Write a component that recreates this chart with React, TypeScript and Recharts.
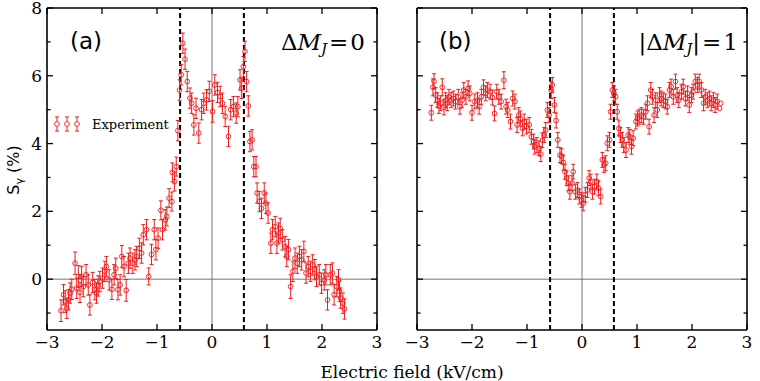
import React from "react";
import { ScatterChart, Scatter, XAxis, YAxis, ErrorBar, ReferenceLine } from "recharts";

// ---- Data (kV/cm, %) ----
const xA = [-2.745,-2.70,-2.67,-2.64,-2.61,-2.58,-2.55,-2.49,-2.46,-2.43,-2.40,-2.37,-2.34,-2.29,-2.25,-2.22,-2.17,-2.13,-2.10,-2.07,-2.04,-1.99,-1.95,-1.92,-1.87,-1.82,-1.78,-1.75,-1.71,-1.67,-1.64,-1.60,-1.56,-1.52,-1.49,-1.44,-1.40,-1.37,-1.32,-1.28,-1.25,-1.19,-1.15,-1.10,-1.05,-1.02,-0.98,-0.93,-0.90,-0.85,-0.82,-0.78,-0.73,-0.72,-0.68,-0.65,-0.62,-0.59,-0.56,-0.53,-0.49,-0.45,-0.40,-0.37,-0.33,-0.29,-0.24,-0.19,-0.15,-0.10,-0.05,0.01,0.05,0.10,0.15,0.19,0.24,0.30,0.34,0.39,0.44,0.47,0.51,0.54,0.57,0.60,0.63,0.66,0.69,0.73,0.76,0.80,0.82,0.86,0.90,0.95,0.98,1.02,1.07,1.10,1.15,1.18,1.21,1.24,1.28,1.33,1.36,1.39,1.43,1.47,1.51,1.55,1.59,1.63,1.67,1.71,1.75,1.79,1.83,1.87,1.90,1.95,1.99,2.04,2.07,2.10,2.15,2.19,2.22,2.27,2.30,2.32,2.34,2.38,2.41];
const yA = [-0.93,-0.46,-0.66,-0.86,-0.61,-0.41,-0.30,0.47,-0.27,0.08,-0.39,0.08,-0.22,0.13,-0.17,-0.76,-0.10,-0.31,-0.41,-0.20,-0.07,0.03,0.23,0.37,-0.02,-0.30,0.13,0.32,-0.31,-0.17,0.67,0.37,-0.33,0.47,0.62,0.47,0.57,0.67,0.91,0.77,1.31,1.46,0.08,0.73,1.46,0.87,1.21,2.03,1.46,1.75,1.85,2.39,2.29,3.15,2.88,3.32,4.38,5.58,6.03,6.96,6.49,5.83,5.34,5.19,4.55,5.04,4.31,5.00,5.19,5.29,5.54,4.95,5.73,5.51,5.39,5.19,4.80,4.21,5.00,5.09,4.90,5.09,5.88,5.63,6.27,6.72,5.83,5.11,4.06,4.11,3.32,3.32,2.54,2.29,2.09,2.54,2.24,1.95,1.06,1.46,1.55,1.06,1.36,1.50,1.16,0.96,0.67,0.87,-0.22,0.23,0.62,0.47,0.67,0.57,0.82,0.18,0.37,0.23,0.42,0.28,0.08,0.13,-0.12,-0.02,0.13,-0.61,0.13,0.18,-0.46,-0.22,-0.02,-0.36,-0.56,-0.71,-0.88];
const eA = [0.32,0.30,0.32,0.30,0.30,0.30,0.30,0.33,0.30,0.32,0.30,0.30,0.30,0.30,0.30,0.30,0.30,0.30,0.30,0.30,0.30,0.30,0.30,0.30,0.30,0.30,0.30,0.30,0.30,0.30,0.32,0.30,0.32,0.30,0.30,0.30,0.30,0.30,0.30,0.30,0.30,0.30,0.25,0.30,0.30,0.30,0.30,0.28,0.30,0.30,0.28,0.28,0.28,0.28,0.28,0.28,0.30,0.30,0.30,0.30,0.30,0.30,0.30,0.30,0.30,0.30,0.30,0.30,0.30,0.30,0.30,0.32,0.30,0.30,0.30,0.30,0.30,0.30,0.30,0.30,0.30,0.30,0.30,0.30,0.30,0.30,0.30,0.30,0.30,0.30,0.30,0.30,0.30,0.30,0.30,0.30,0.30,0.30,0.30,0.30,0.30,0.30,0.30,0.30,0.30,0.30,0.30,0.30,0.35,0.30,0.30,0.30,0.30,0.30,0.30,0.30,0.30,0.30,0.30,0.30,0.30,0.30,0.30,0.30,0.30,0.30,0.30,0.30,0.30,0.30,0.30,0.30,0.30,0.30,0.30];

const xB = [-2.74,-2.71,-2.69,-2.66,-2.63,-2.60,-2.57,-2.54,-2.51,-2.48,-2.45,-2.42,-2.38,-2.34,-2.30,-2.25,-2.22,-2.18,-2.15,-2.11,-2.07,-2.04,-2.00,-1.95,-1.90,-1.87,-1.83,-1.79,-1.75,-1.72,-1.67,-1.63,-1.59,-1.55,-1.51,-1.47,-1.42,-1.38,-1.35,-1.30,-1.26,-1.22,-1.18,-1.15,-1.12,-1.08,-1.05,-1.01,-0.96,-0.92,-0.88,-0.86,-0.82,-0.78,-0.75,-0.72,-0.69,-0.66,-0.63,-0.60,-0.56,-0.54,-0.50,-0.47,-0.44,-0.40,-0.37,-0.34,-0.31,-0.28,-0.25,-0.22,-0.18,-0.16,-0.12,-0.08,-0.05,-0.01,0.02,0.06,0.10,0.13,0.16,0.19,0.23,0.27,0.30,0.34,0.37,0.40,0.43,0.46,0.50,0.52,0.55,0.58,0.61,0.64,0.67,0.70,0.73,0.76,0.80,0.84,0.87,0.90,0.93,0.98,1.01,1.04,1.08,1.12,1.16,1.19,1.22,1.25,1.28,1.31,1.34,1.37,1.41,1.44,1.48,1.52,1.55,1.59,1.62,1.66,1.70,1.73,1.76,1.81,1.84,1.88,1.92,1.95,1.99,2.02,2.06,2.10,2.13,2.17,2.21,2.24,2.28,2.32,2.35,2.39,2.42,2.46,2.50,2.52];
const yB = [4.91,5.66,5.84,5.43,5.28,5.11,5.19,5.66,5.07,5.28,5.19,5.38,5.28,5.33,5.24,5.38,5.09,5.28,5.58,5.38,5.63,5.48,4.91,5.24,5.28,5.09,5.38,5.66,5.48,5.58,5.53,5.36,4.89,5.53,5.38,5.24,5.87,5.09,4.99,4.65,5.33,5.24,4.55,4.84,4.74,4.45,4.65,4.50,4.55,4.20,4.06,3.91,3.96,3.86,3.69,4.10,4.25,4.40,4.99,4.84,5.58,5.73,5.14,4.68,4.11,3.66,3.63,3.44,3.17,2.98,2.83,2.58,2.83,3.17,2.58,2.63,2.44,2.34,2.24,2.49,2.63,2.98,2.88,2.58,2.73,2.88,2.68,2.44,3.52,3.37,3.42,4.01,4.11,4.94,5.58,5.48,5.38,4.94,4.45,4.25,4.11,3.96,3.81,4.25,4.20,3.91,4.16,4.65,4.74,4.79,4.84,4.79,4.94,5.19,4.50,5.58,5.38,4.84,5.28,4.99,5.43,5.33,5.28,5.24,5.09,5.58,5.68,5.38,5.83,5.43,5.28,5.53,5.68,5.33,5.48,5.14,5.43,5.53,5.83,5.73,5.83,5.58,5.19,5.38,5.28,5.33,5.19,5.28,5.14,5.24,5.04,5.19];
const eB = [0.22,0.25,0.22,0.22,0.22,0.22,0.22,0.25,0.22,0.22,0.22,0.22,0.22,0.22,0.22,0.22,0.22,0.22,0.22,0.22,0.22,0.22,0.22,0.22,0.22,0.22,0.22,0.22,0.22,0.22,0.22,0.22,0.22,0.22,0.22,0.22,0.25,0.22,0.22,0.22,0.22,0.22,0.22,0.22,0.22,0.22,0.22,0.22,0.22,0.22,0.22,0.22,0.22,0.22,0.22,0.22,0.22,0.22,0.22,0.22,0.25,0.22,0.22,0.22,0.22,0.22,0.22,0.22,0.22,0.22,0.22,0.22,0.22,0.22,0.22,0.22,0.22,0.22,0.22,0.22,0.22,0.22,0.22,0.22,0.22,0.22,0.22,0.22,0.22,0.22,0.22,0.22,0.22,0.22,0.22,0.22,0.22,0.22,0.22,0.22,0.22,0.22,0.22,0.22,0.22,0.22,0.22,0.22,0.22,0.22,0.22,0.22,0.22,0.22,0.22,0.22,0.22,0.22,0.22,0.22,0.22,0.22,0.22,0.22,0.22,0.22,0.22,0.22,0.22,0.22,0.22,0.22,0.22,0.22,0.22,0.22,0.22,0.22,0.22,0.22,0.22,0.22,0.22,0.22,0.22,0.22,0.22,0.22,0.22,0.22];

const xTicks = [-3, -2, -1, 0, 1, 2, 3];
const yTicks = [-1, 0, 1, 2, 3, 4, 5, 6, 7, 8];
const dashedX = [-0.58, 0.58];

const RED = "#ee1c1c";
const SERIF = "'DejaVu Serif', serif";
const SANS = "'DejaVu Sans', sans-serif";
const CHART_W = 410;

const build = (xs: number[], ys: number[], es: number[]) =>
  xs.map((x, i) => ({ x, y: ys[i], e: es[i] }));

const fmt = (v: number) => (v < 0 ? "\u2212" + Math.abs(v) : String(v));

const makeTick = (side: "bottom" | "top" | "left" | "right", labels: boolean) => (p: any) => {
  const { x, y, payload } = p;
  const v = payload.value as number;
  const major = side === "bottom" || side === "top" ? true : v % 2 === 0;
  const len = major ? 6 : 3.5;
  let line;
  if (side === "bottom") line = <line x1={x} y1={y} x2={x} y2={y - len} />;
  else if (side === "top") line = <line x1={x} y1={y} x2={x} y2={y + len} />;
  else if (side === "left") line = <line x1={x} y1={y} x2={x + len} y2={y} />;
  else line = <line x1={x} y1={y} x2={x - len} y2={y} />;
  return (
    <g>
      <g stroke="#000" strokeWidth={1.3}>{line}</g>
      {labels && side === "bottom" && (
        <text x={x} y={y + 18} textAnchor="middle" fontFamily={SERIF} fontSize={17} fill="#000">{fmt(v)}</text>
      )}
      {labels && side === "left" && major && (
        <text x={x - 5} y={y + 6} textAnchor="end" fontFamily={SERIF} fontSize={17} fill="#000">{fmt(v)}</text>
      )}
    </g>
  );
};

const Marker = (p: any) => (
  <circle cx={p.cx} cy={p.cy} r={2.4} fill="none" stroke={RED} strokeWidth={0.9} />
);

function Panel({ data, left, plotLeft, showYLabels }: { data: any[]; left: number; plotLeft: number; showYLabels: boolean }) {
  const axisLine = { stroke: "#000", strokeWidth: 1.6 };
  const plotRight = CHART_W - plotLeft - 330;
  return (
    <div style={{ position: "absolute", left, top: 0 }}>
      <ScatterChart width={CHART_W} height={381} margin={{ top: 7, right: plotRight - 1, bottom: 50, left: plotLeft - 1 }}>
        <XAxis xAxisId="b" dataKey="x" type="number" domain={[-3, 3]} ticks={xTicks} interval={0} height={1} tickSize={0} tickMargin={0} orientation="bottom" axisLine={axisLine} tickLine={false} tick={makeTick("bottom", true)} allowDataOverflow />
        <XAxis xAxisId="t" dataKey="x" type="number" domain={[-3, 3]} ticks={xTicks} interval={0} height={1} tickSize={0} tickMargin={0} orientation="top" axisLine={axisLine} tickLine={false} tick={makeTick("top", false)} allowDataOverflow />
        <YAxis yAxisId="l" dataKey="y" type="number" domain={[-1.5, 8]} ticks={yTicks} interval={0} width={1} tickSize={0} tickMargin={0} orientation="left" axisLine={axisLine} tickLine={false} tick={makeTick("left", showYLabels)} allowDataOverflow />
        <YAxis yAxisId="r" dataKey="y" type="number" domain={[-1.5, 8]} ticks={yTicks} interval={0} width={1} tickSize={0} tickMargin={0} orientation="right" axisLine={axisLine} tickLine={false} tick={makeTick("right", false)} allowDataOverflow />
        <ReferenceLine xAxisId="b" yAxisId="l" x={0} stroke="#666" strokeWidth={0.9} />
        <ReferenceLine xAxisId="b" yAxisId="l" y={0} stroke="#666" strokeWidth={0.9} />
        {dashedX.map((d) => (
          <ReferenceLine key={d} xAxisId="b" yAxisId="l" x={d} stroke="#000" strokeWidth={2} strokeDasharray="5 3" />
        ))}
        <Scatter xAxisId="b" yAxisId="l" data={data} dataKey="y" shape={Marker} isAnimationActive={false}>
          <ErrorBar dataKey="e" direction="y" width={2} stroke={RED} strokeWidth={1} isAnimationActive={false} />
        </Scatter>
      </ScatterChart>
    </div>
  );
}

export default function App() {
  const dataA = build(xA, yA, eA);
  const dataB = build(xB, yB, eB);
  const mathStyle: React.CSSProperties = { position: "absolute", top: 29, fontFamily: SERIF, fontSize: 23, lineHeight: "26px", whiteSpace: "nowrap", color: "#000" };
  return (
    <div style={{ position: "absolute", left: 0, top: 0, width: 760, height: 381, background: "#fff", overflow: "hidden" }}>
      <Panel data={dataA} left={0} plotLeft={47} showYLabels={true} />
      <Panel data={dataB} left={380} plotLeft={37} showYLabels={false} />

      <div style={{ position: "absolute", left: 70, top: 30, fontFamily: SANS, fontSize: 23, lineHeight: "23px", color: "#000" }}>(a)</div>
      <div style={{ position: "absolute", left: 439, top: 30, fontFamily: SANS, fontSize: 23, lineHeight: "23px", color: "#000" }}>(b)</div>

      <div style={{ ...mathStyle, right: 395 }}>
        Δ<i>M</i><sub style={{ fontSize: 15, fontStyle: "italic", verticalAlign: "-4px" }}>J</sub>
        <span style={{ marginLeft: 2 }}>=</span><span style={{ marginLeft: 2 }}>0</span>
      </div>
      <div style={{ ...mathStyle, right: 22 }}>
        |Δ<i>M</i><sub style={{ fontSize: 15, fontStyle: "italic", verticalAlign: "-4px" }}>J</sub>|
        <span style={{ marginLeft: 2 }}>=</span><span style={{ marginLeft: 2 }}>1</span>
      </div>

      <div style={{ position: "absolute", left: 50, top: 114, display: "flex", alignItems: "center" }}>
        <svg width={34} height={20}>
          {[7, 17, 27].map((cx) => (
            <g key={cx} stroke={RED} strokeWidth={1} fill="none">
              <line x1={cx} y1={3} x2={cx} y2={17} />
              <line x1={cx - 2} y1={3} x2={cx + 2} y2={3} />
              <line x1={cx - 2} y1={17} x2={cx + 2} y2={17} />
              <circle cx={cx} cy={10} r={2.4} fill="#fff" strokeWidth={0.9} />
            </g>
          ))}
        </svg>
        <span style={{ marginLeft: 8, fontFamily: SERIF, fontSize: 13, color: "#000" }}>Experiment</span>
      </div>

      <div style={{ position: "absolute", left: 15, top: 170, transform: "translate(-50%, -50%) rotate(-90deg)", fontFamily: SANS, fontSize: 16, whiteSpace: "nowrap", color: "#000" }}>
        S<sub style={{ fontSize: 11 }}>γ</sub> (%)
      </div>

      <div style={{ position: "absolute", left: 412, top: 364, transform: "translateX(-50%)", fontFamily: SERIF, fontSize: 17, lineHeight: "17px", whiteSpace: "nowrap", color: "#000" }}>
        Electric field (kV/cm)
      </div>
    </div>
  );
}
